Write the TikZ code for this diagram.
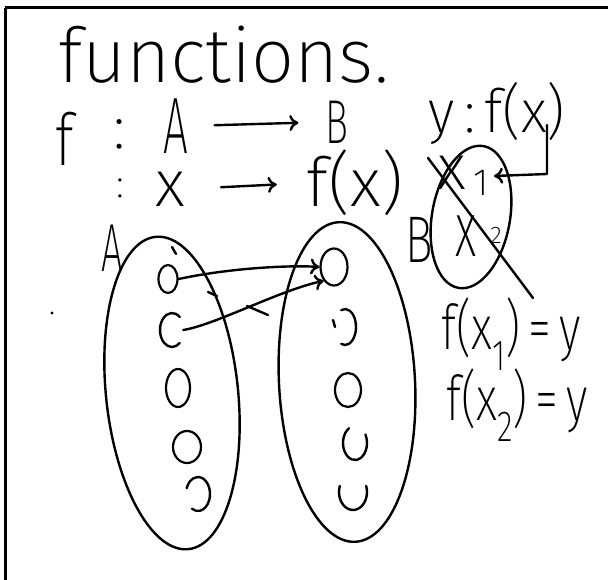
\documentclass[tikz,border=0pt]{standalone}
\usepackage{fontspec}
\usetikzlibrary{arrows.meta,shapes.geometric}
\newfontfamily\hand{Fira Sans ExtraLight}
\newcommand\hwt[3]{\scalebox{#1}[1]{\fontsize{#2}{#2}\selectfont #3}}
\begin{document}
\begin{tikzpicture}[x=1pt,y=-1pt,
  ink/.style={line width=2.4pt,line cap=round,line join=round},
  lbl/.style={inner sep=0pt,font=\hand},
  ring/.style={ellipse,draw,line width=2.2pt,inner sep=0pt},
  spot/.style={inner sep=0pt,minimum width=22pt,minimum height=32pt},
  hd/.style={-{To[length=9pt,width=16pt,line width=2.4pt]}}
]
\useasboundingbox (0,0) rectangle (608,580);
% frame
\draw[line width=3pt] (5,8) -- (620,8);
\draw[line width=3pt] (5,8) -- (5,590);

% title
\node[lbl,anchor=base west] (title) at (58,83) {\hwt{1.0}{76}{functions.}};

% f : A -> B
\node[lbl] (f1) at (65,139) {\hwt{0.8}{72}{f}};
\node[lbl] (c1) at (120,134) {\hwt{1}{62}{:}};
\node[lbl] (A) at (176,126) {\hwt{0.55}{80}{A}};
\node[lbl] (B) at (337,122) {\hwt{0.62}{62}{B}};
\draw[ink,hd,shorten <=26pt,shorten >=27pt] (A.east) -- (B.west);

% : x -> f(x)
\node[lbl] (c2) at (120,188) {\hwt{1}{40}{:}};
\node[lbl] (x) at (170,189) {\hwt{1}{66}{x}};
\node[lbl] (fx) at (355,183) {\hwt{1}{68}{f(x)}};
\draw[ink,hd,shorten <=36pt,shorten >=30pt] (x.east) -- (fx.west);

% y : f(x)
\node[lbl] (yf) at (497,113) {\hwt{0.95}{60}{y\,:\,f(x)}};

% small set
\draw[ink,rotate around={-10:(471,217)}] (471,217) ellipse [x radius=39,y radius=72];
\node[lbl] (x1) at (452,173) {\hwt{1}{64}{x}};
\node[lbl] (x1s) at (481,183) {\hwt{1}{38}{1}};
\node[lbl] (x2) at (466,236) {\hwt{0.6}{78}{x}};
\node[lbl] (x2s) at (496,235) {\hwt{1}{24}{2}};
\draw[ink] (428,158) -- (533,298);
\node[lbl] (Bp) at (419,240) {\hwt{0.7}{66}{B}};
\coordinate (yfdrop) at (547,125);
\coordinate (x1tip) at (494,176);
\draw[ink,hd] (yfdrop) -- (547,174) -- (x1tip);

% equations
\node[lbl] (eq1) at (511,334) {\hwt{0.75}{62}{f(x\textsubscript{1})\,=\,y}};
\node[lbl] (eq2) at (517,405) {\hwt{0.75}{62}{f(x\textsubscript{2})\,=\,y}};

% set A
\node[lbl] (Alab) at (112,248) {\hwt{0.56}{68}{A}};
\draw[ink,rotate around={6:(172,393)}] (172,393) ellipse [x radius=66,y radius=157];
% set B
\draw[ink,rotate around={3:(347,382)}] (347,382) ellipse [x radius=68,y radius=160];

% elements of A
\node[ring,minimum width=19pt,minimum height=28pt] (a1) at (168,279) {};
\node[spot] (a2) at (172,330) {};
\draw[ink] ([shift={(-50:12 and 17)}]a2.center) arc[start angle=-50,end angle=-310,x radius=12,y radius=17];
\node[ring,minimum width=24pt,minimum height=38pt] (a3) at (178,388) {};
\node[ring,minimum width=28pt,minimum height=32pt] (a4) at (187,447) {};
\node[spot] (a5) at (198,494) {};
\draw[ink] ([shift={(-160:12 and 17)}]a5.center) arc[start angle=-160,end angle=120,x radius=12,y radius=17];

% elements of B
\node[ring,minimum width=27pt,minimum height=37pt] (b1) at (334,267) {};
\node[spot] (b2) at (345,327) {};
\draw[ink] ([shift={(-110:11 and 18)}]b2.center) arc[start angle=-110,end angle=110,x radius=11,y radius=18];
\draw[ink] (333,320) -- (335,327);
\node[ring,minimum width=26pt,minimum height=34pt] (b3) at (348,390) {};
\node[spot] (b4) at (355,443) {};
\draw[ink] ([shift={(240:12 and 17)}]b4.center) arc[start angle=240,end angle=-30,x radius=12,y radius=17];
\node[spot] (b5) at (353,492) {};
\draw[ink] ([shift={(200:14 and 18)}]b5.center) arc[start angle=200,end angle=-20,x radius=14,y radius=18];

% mapping arrows
\draw[ink,hd] (a1.east) .. controls (230,268) and (290,265) .. (b1.west);
\draw[ink,hd] (a2.east) .. controls (215,325) and (280,290) .. (b1.south west);

% stray strokes
\draw[ink] (172,247) -- (176,254);
\draw[ink] (208,292) -- (217,296);
\draw[ink] (247,306) -- (268,315);
\fill (52,313) circle [radius=1.6];
\end{tikzpicture}
\end{document}
